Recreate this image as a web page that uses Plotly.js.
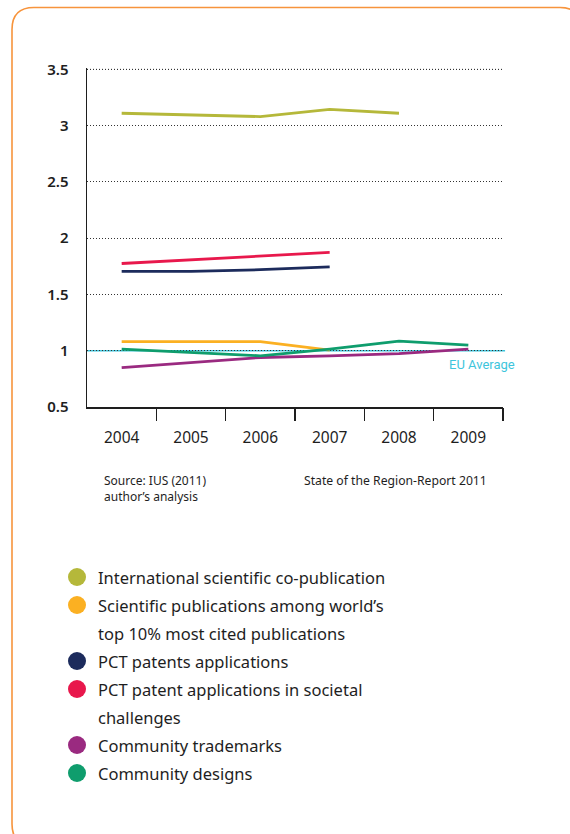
<!DOCTYPE html>
<html>
<head>
<meta charset="utf-8">
<script src="https://cdn.plot.ly/plotly-3.0.1.min.js"></script>
<style>
  html, body { margin: 0; padding: 0; background: #fff; overflow: hidden; }
  #chart { width: 570px; height: 834px; }
</style>
</head>
<body>
<div id="chart"></div>
<script>
// ---- data ----
const years = [2004, 2005, 2006, 2007, 2008, 2009];
const yTicks = [0.5, 1, 1.5, 2, 2.5, 3, 3.5];
const coPublication = [3.11, 3.095, 3.08, 3.145, 3.11, null];
const top10Cited = [1.08, 1.08, 1.08, 1.005, null, null];
const pctPatents = [1.705, 1.705, 1.72, 1.745, null, null];
const pctSocietal = [1.775, 1.808, 1.84, 1.874, null, null];
const trademarks = [0.85, 0.895, 0.94, 0.955, 0.975, 1.015];
const designs = [1.015, 0.985, 0.955, 1.015, 1.085, 1.05];
const euAverage = 1;

const seriesNames = [
  "International scientific co-publication",
  "Scientific publications among world’s\ntop 10% most cited publications",
  "PCT patents applications",
  "PCT patent applications in societal\nchallenges",
  "Community trademarks",
  "Community designs"
];
const seriesColors = ["#b5b83a", "#fbb022", "#1c2b5c", "#e8184c", "#9a2a80", "#0f9d6d"];
const seriesValues = [coPublication, top10Cited, pctPatents, pctSocietal, trademarks, designs];

// ---- geometry helpers (pixel -> paper) ----
const W = 570, H = 834;
const L = 87, R = 67, T = 68, B = 427;
const plotW = W - L - R, plotH = H - T - B;
const px = x => (x - L) / plotW;
const py = y => (H - B - y) / plotH;
const P = (x, y) => px(x).toFixed(5) + "," + py(y).toFixed(5);

const font = "Noto Sans, Lato, sans-serif";
const dark = "#1e1e1e";

const traces = seriesValues.map((vals, i) => ({
  type: "scatter",
  mode: "lines",
  x: years,
  y: vals,
  name: seriesNames[i].replace("\n", " "),
  line: { color: seriesColors[i], width: 2.8 },
  connectgaps: false,
  hoverinfo: "skip",
  showlegend: false,
  xaxis: "x",
  yaxis: "y"
}));

// dummy trace to activate xaxis2 (boundary ticks)
traces.push({
  type: "scatter", mode: "lines", x: [years[0]], y: [null],
  xaxis: "x2", yaxis: "y", showlegend: false, hoverinfo: "skip"
});

const boundaries = years.map(y => y + 0.5);
const yTop = yTicks[yTicks.length - 1];

// ---- border ----
const bl = 12, bt = 7.5, br = 582, bb = 846, rr = 22;
const borderPath =
  "M " + P(bl + rr, bt) + " L " + P(br - rr, bt) +
  " Q " + P(br, bt) + " " + P(br, bt + rr) +
  " L " + P(br, bb - rr) +
  " Q " + P(br, bb) + " " + P(br - rr, bb) +
  " L " + P(bl + rr, bb) +
  " Q " + P(bl, bb) + " " + P(bl, bb - rr) +
  " L " + P(bl, bt + rr) +
  " Q " + P(bl, bt) + " " + P(bl + rr, bt) + " Z";

const shapes = [
  { type: "path", xref: "paper", yref: "paper", path: borderPath,
    line: { color: "#f7943c", width: 1.6 }, layer: "above" },
  // top gridline (at the plot edge)
  { type: "line", xref: "paper", yref: "y", x0: 0, x1: 1, y0: yTop, y1: yTop,
    line: { color: "#333", width: 1, dash: "1px,2px" }, layer: "between" },
  { type: "line", xref: "paper", yref: "y", x0: 0, x1: 1.005, y0: euAverage, y1: euAverage,
    line: { color: "#3ec5dc", width: 1.6 }, layer: "between" }
];

const annotations = [
  { xref: "paper", yref: "y", x: px(517), y: euAverage, yshift: -14,
    xanchor: "right", yanchor: "middle", showarrow: false, text: "EU Average",
    font: { family: "Roboto, sans-serif", size: 13, color: "#3ec5dc" } },
  { xref: "paper", yref: "paper", x: px(102), y: py(470), xanchor: "left", yanchor: "top",
    align: "left", showarrow: false, text: "Source: IUS (2011)<br>author’s analysis",
    font: { family: font, size: 12, color: dark } },
  { xref: "paper", yref: "paper", x: px(302), y: py(470), xanchor: "left", yanchor: "top",
    align: "left", showarrow: false, text: "State of the Region-Report 2011",
    font: { family: font, size: 12.2, color: dark } }
];

// ---- custom legend ----
let lineY = 577;
const lineStep = 28;
seriesNames.forEach((name, i) => {
  const parts = name.split("\n");
  const cx = 77, cy = lineY, r = 9;
  shapes.push({
    type: "circle", xref: "paper", yref: "paper",
    x0: px(cx - r), x1: px(cx + r), y0: py(cy + r), y1: py(cy - r),
    fillcolor: seriesColors[i], line: { width: 0 }, layer: "above"
  });
  parts.forEach(part => {
    annotations.push({
      xref: "paper", yref: "paper", x: px(96), y: py(lineY),
      xanchor: "left", yanchor: "middle", showarrow: false, text: part,
      font: { family: font, size: 16.5, color: dark }
    });
    lineY += lineStep;
  });
});

const layout = {
  width: W, height: H,
  margin: { l: L, r: R, t: T, b: B, pad: 0 },
  paper_bgcolor: "#ffffff",
  plot_bgcolor: "#ffffff",
  showlegend: false,
  xaxis: {
    type: "linear", range: [years[0] - 0.5, years[years.length - 1] + 0.5],
    tickvals: years, ticktext: years.map(String),
    ticks: "", showgrid: false, zeroline: false,
    showline: true, linecolor: dark, linewidth: 1.5,
    tickfont: { family: font, size: 15.5, color: dark },
    ticklabelstandoff: 16, fixedrange: true
  },
  xaxis2: {
    type: "linear", overlaying: "x", anchor: "y", side: "bottom",
    range: [years[0] - 0.5, years[years.length - 1] + 0.5],
    tickvals: boundaries, ticktext: boundaries.map(() => ""),
    ticks: "outside", ticklen: 13, tickwidth: 1.5, tickcolor: dark,
    showgrid: false, zeroline: false, showline: false, showticklabels: false
  },
  yaxis: {
    range: [yTicks[0], yTop + 0.012],
    tickvals: yTicks, ticktext: yTicks.map(String),
    ticks: "", showgrid: true, gridcolor: "#333", griddash: "1px,2px", gridwidth: 1,
    zeroline: false, showline: true, linecolor: dark, linewidth: 1.5,
    tickfont: { family: font, size: 15, color: dark, weight: 600 },
    ticklabelstandoff: 14, fixedrange: true
  },
  shapes: shapes,
  annotations: annotations
};

Plotly.newPlot("chart", traces, layout, { displayModeBar: false, staticPlot: true });
</script>
</body>
</html>
